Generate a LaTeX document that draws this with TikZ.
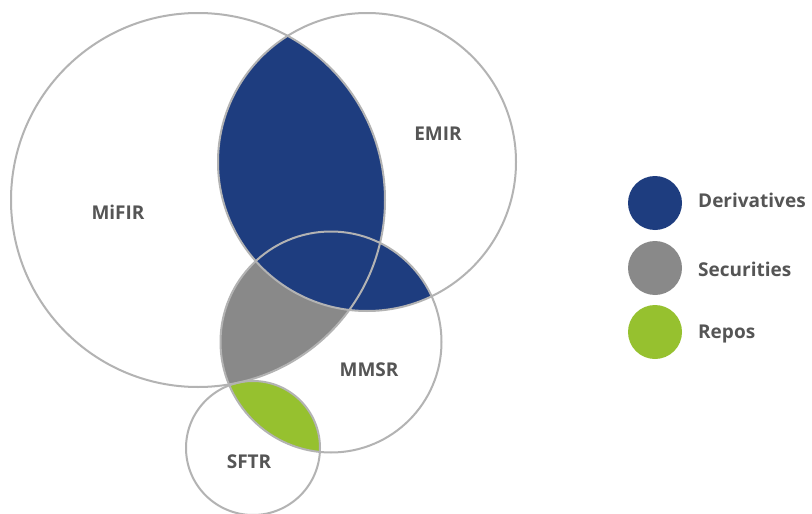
\documentclass[tikz,border=0pt]{standalone}
\usepackage{fontspec}
\setmainfont{Open Sans}
\definecolor{deriv}{HTML}{1E3D7F}
\definecolor{secur}{HTML}{898989}
\definecolor{repo}{HTML}{96C12F}
\definecolor{ring}{HTML}{B3B3B3}
\definecolor{txt}{HTML}{555555}
\tikzset{
  ringline/.style={draw=ring, line width=2pt},
  lbl/.style={text=txt, font=\fontsize{19}{22}\selectfont\bfseries, inner sep=0pt},
  legtxt/.style={lbl, anchor=west},
  legdot/.style={circle, minimum size=54pt, inner sep=0pt}
}
\begin{document}
\begin{tikzpicture}[x=1pt, y=-1pt]
\useasboundingbox (0,0) rectangle (812,514);
\fill[white] (0,0) rectangle (812,514);
% circle geometry
\def\mifir{(198,200) circle (187)}
\def\emir{(367,162) circle (149)}
\def\mmsr{(331,342) circle (110.5)}
\def\sftr{(253,448) circle (67)}
% securities: MiFIR & MMSR
\begin{scope}
  \clip \mifir;
  \fill[secur] \mmsr;
\end{scope}
% derivatives: EMIR & (MiFIR or MMSR)
\begin{scope}
  \clip \emir;
  \fill[deriv] \mifir;
  \fill[deriv] \mmsr;
\end{scope}
% repos: SFTR & MMSR
\begin{scope}
  \clip \sftr;
  \fill[repo] \mmsr;
\end{scope}
% outlines
\draw[ringline] \mifir;
\draw[ringline] \emir;
\draw[ringline] \mmsr;
\draw[ringline] \sftr;
% labels
\node[lbl] (lmifir) at (118,212) {MiFIR};
\node[lbl] (lemir) at (438,134) {EMIR};
\node[lbl] (lmmsr) at (369,370) {MMSR};
\node[lbl] (lsftr) at (249,462) {SFTR};
% legend
\node[legdot, fill=deriv] (dderiv) at (655,203) {};
\node[legdot, fill=secur] (dsecur) at (655,268) {};
\node[legdot, fill=repo] (drepo) at (655,332) {};
\node[legtxt] (tderiv) at (698,200) {Derivatives};
\node[legtxt] (tsecur) at (698,269) {Securities};
\node[legtxt] (trepo) at (698,334) {Repos};
\end{tikzpicture}
\end{document}
